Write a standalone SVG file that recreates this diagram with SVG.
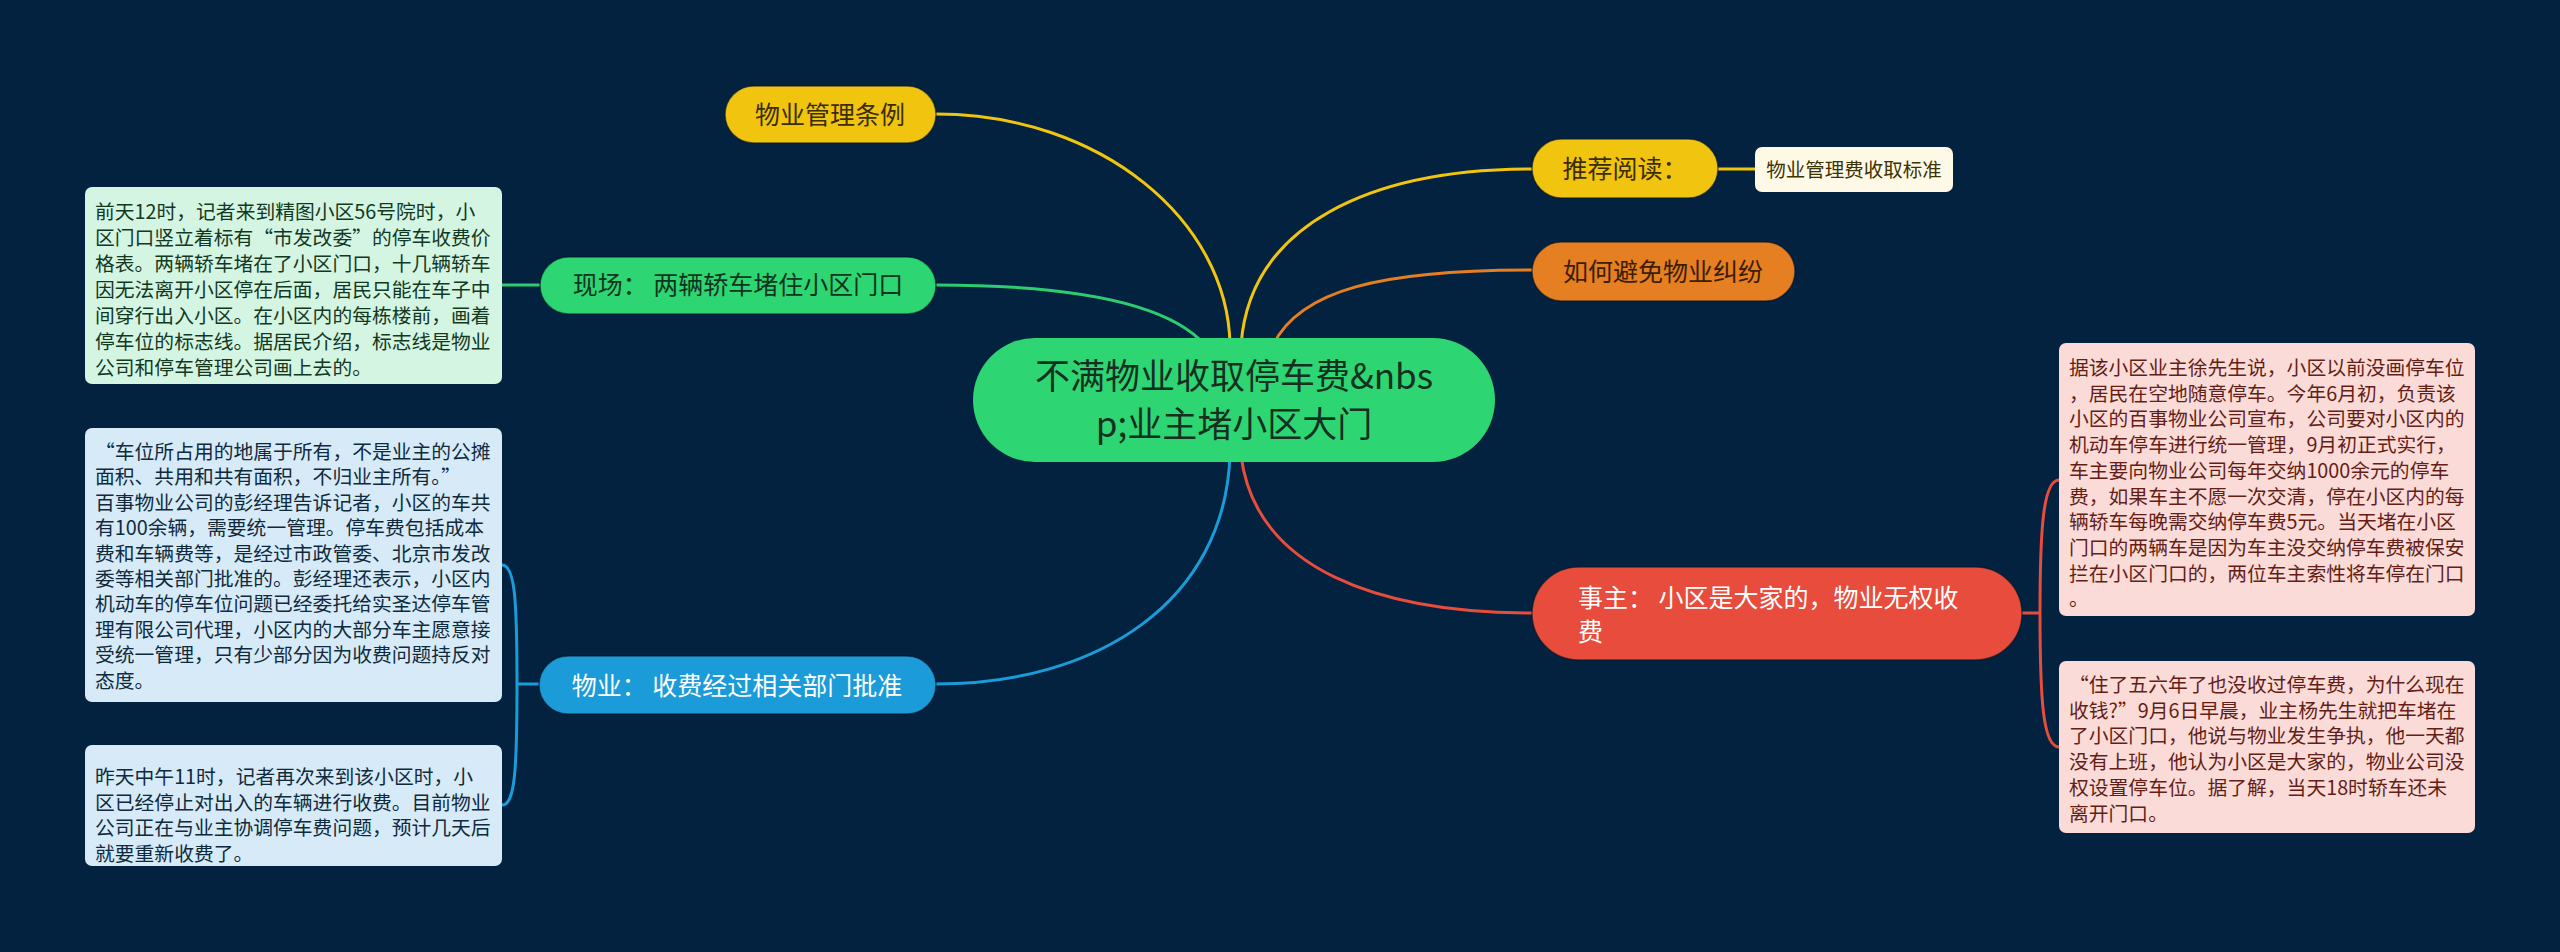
<svg xmlns="http://www.w3.org/2000/svg" width="2560" height="952" viewBox="0 0 2560 952">
<style>
text{font-family:"Noto Sans CJK SC","Noto Sans",sans-serif;}
.c{fill:none;stroke-width:3;stroke-linecap:round;}
.y{stroke:#f1c40f}.g{stroke:#2ecc71}.b{stroke:#1b9bd8}.o{stroke:#e67e22}.r{stroke:#e74c3c}
.n{font-size:25px;}
.t{font-size:19.8px;}
.sh{stroke:#011526;stroke-width:1.5;stroke-opacity:0.6;}
</style>
<rect width="2560" height="952" fill="#03223f"/>
<g id="connectors">
<path class="c y" d="M936 114 C1100 114 1228 220 1230 345"/>
<path class="c y" d="M1241 345 C1250 225 1370 169 1532 169"/>
<path class="c y" d="M1718 169 L1755 169"/>
<path class="c o" d="M1273 345 C1300 290 1380 270 1532 270"/>
<path class="c g" d="M936 285 C1080 285 1170 305 1205 345"/>
<path class="c g" d="M539 285 L502 285"/>
<path class="c b" d="M1230 455 C1225 600 1100 684 936 684"/>
<path class="c b" d="M539 684 L517 684 M517 684 C517 600 515 565 502 565 M517 684 C517 770 515 805 502 805"/>
<path class="c r" d="M1241 455 C1255 570 1380 613 1532 613"/>
<path class="c r" d="M2021 613 L2040 613 M2040 613 C2040 530 2043 480 2059 480 M2040 613 C2040 700 2043 747 2059 747"/>
</g>
<g id="center">
<rect x="973" y="338" width="522" height="124" rx="62" fill="#2ed573"/>
<text x="1234" y="389" font-size="35" text-anchor="middle" fill="#15301f">不满物业收取停车费&amp;nbs</text>
<text x="1234" y="437" font-size="35" text-anchor="middle" fill="#15301f">p;业主堵小区大门</text>
</g>
<g id="n-tiaoli">
<rect class="sh" x="725" y="86" width="211" height="57" rx="28.5" fill="#f1c40f"/>
<text class="n" x="830" y="124" text-anchor="middle" fill="#3b2d00">物业管理条例</text>
</g>
<g id="n-xianchang">
<rect class="sh" x="540" y="257" width="396" height="57" rx="28.5" fill="#2ed573"/>
<text class="n" x="738" y="294" text-anchor="middle" fill="#10341d">现场：  两辆轿车堵住小区门口</text>
</g>
<g id="n-xianchang-detail">
<rect x="85" y="187" width="417" height="197" rx="7" fill="#d5f5e3"/>
<g class="t" fill="#12391f">
<text x="95" y="219">前天12时，记者来到精图小区56号院时，小</text>
<text x="95" y="245">区门口竖立着标有“市发改委”的停车收费价</text>
<text x="95" y="271">格表。两辆轿车堵在了小区门口，十几辆轿车</text>
<text x="95" y="297">因无法离开小区停在后面，居民只能在车子中</text>
<text x="95" y="323">间穿行出入小区。在小区内的每栋楼前，画着</text>
<text x="95" y="349">停车位的标志线。据居民介绍，标志线是物业</text>
<text x="95" y="375">公司和停车管理公司画上去的。</text>
</g>
</g>
<g id="n-wuye">
<rect class="sh" x="539" y="656" width="397" height="58" rx="29" fill="#1b9bd8"/>
<text class="n" x="737" y="695" text-anchor="middle" fill="#ffffff">物业：  收费经过相关部门批准</text>
</g>
<g id="n-wuye-detail1">
<rect x="85" y="428" width="417" height="274" rx="7" fill="#d6eaf8"/>
<g class="t" fill="#0f2a3d">
<text x="95" y="459">“车位所占用的地属于所有，不是业主的公摊</text>
<text x="95" y="484.4">面积、共用和共有面积，不归业主所有。”</text>
<text x="95" y="509.8">百事物业公司的彭经理告诉记者，小区的车共</text>
<text x="95" y="535.2">有100余辆，需要统一管理。停车费包括成本</text>
<text x="95" y="560.6">费和车辆费等，是经过市政管委、北京市发改</text>
<text x="95" y="586">委等相关部门批准的。彭经理还表示，小区内</text>
<text x="95" y="611.4">机动车的停车位问题已经委托给实圣达停车管</text>
<text x="95" y="636.8">理有限公司代理，小区内的大部分车主愿意接</text>
<text x="95" y="662.2">受统一管理，只有少部分因为收费问题持反对</text>
<text x="95" y="687.6">态度。</text>
</g>
</g>
<g id="n-wuye-detail2">
<rect x="85" y="745" width="417" height="121" rx="7" fill="#d6eaf8"/>
<g class="t" fill="#0f2a3d">
<text x="95" y="784">昨天中午11时，记者再次来到该小区时，小</text>
<text x="95" y="809.7">区已经停止对出入的车辆进行收费。目前物业</text>
<text x="95" y="835.4">公司正在与业主协调停车费问题，预计几天后</text>
<text x="95" y="861">就要重新收费了。</text>
</g>
</g>
<g id="n-tuijian">
<rect class="sh" x="1532" y="139" width="186" height="59" rx="29.5" fill="#f1c40f"/>
<text class="n" x="1625" y="178" text-anchor="middle" fill="#3b2d00">推荐阅读：</text>
</g>
<g id="n-tuijian-child">
<rect x="1755" y="147" width="198" height="45" rx="7" fill="#fef9e7"/>
<text x="1854" y="176.5" font-size="19.5" text-anchor="middle" fill="#3d3200">物业管理费收取标准</text>
</g>
<g id="n-bimian">
<rect class="sh" x="1532" y="242" width="263" height="59" rx="29.5" fill="#e67e22"/>
<text class="n" x="1663" y="281" text-anchor="middle" fill="#3b1d00">如何避免物业纠纷</text>
</g>
<g id="n-shizhu">
<rect class="sh" x="1532" y="567" width="490" height="93" rx="46.5" fill="#e74c3c"/>
<text class="n" x="1578" y="607" fill="#ffffff">事主：  小区是大家的，物业无权收</text>
<text class="n" x="1578" y="641" fill="#ffffff">费</text>
</g>
<g id="n-shizhu-detail1">
<rect x="2059" y="343" width="416" height="273" rx="7" fill="#fadbd8"/>
<g class="t" fill="#641e16">
<text x="2069" y="375">据该小区业主徐先生说，小区以前没画停车位</text>
<text x="2069" y="400.7">，居民在空地随意停车。今年6月初，负责该</text>
<text x="2069" y="426.4">小区的百事物业公司宣布，公司要对小区内的</text>
<text x="2069" y="452.1">机动车停车进行统一管理，9月初正式实行，</text>
<text x="2069" y="477.8">车主要向物业公司每年交纳1000余元的停车</text>
<text x="2069" y="503.5">费，如果车主不愿一次交清，停在小区内的每</text>
<text x="2069" y="529.2">辆轿车每晚需交纳停车费5元。当天堵在小区</text>
<text x="2069" y="554.9">门口的两辆车是因为车主没交纳停车费被保安</text>
<text x="2069" y="580.6">拦在小区门口的，两位车主索性将车停在门口</text>
<text x="2069" y="606.3">。</text>
</g>
</g>
<g id="n-shizhu-detail2">
<rect x="2059" y="661" width="416" height="172" rx="7" fill="#fadbd8"/>
<g class="t" fill="#641e16">
<text x="2069" y="692">“住了五六年了也没收过停车费，为什么现在</text>
<text x="2069" y="717.7">收钱?”9月6日早晨，业主杨先生就把车堵在</text>
<text x="2069" y="743.4">了小区门口，他说与物业发生争执，他一天都</text>
<text x="2069" y="769.1">没有上班，他认为小区是大家的，物业公司没</text>
<text x="2069" y="794.8">权设置停车位。据了解，当天18时轿车还未</text>
<text x="2069" y="820.5">离开门口。</text>
</g>
</g>
</svg>
